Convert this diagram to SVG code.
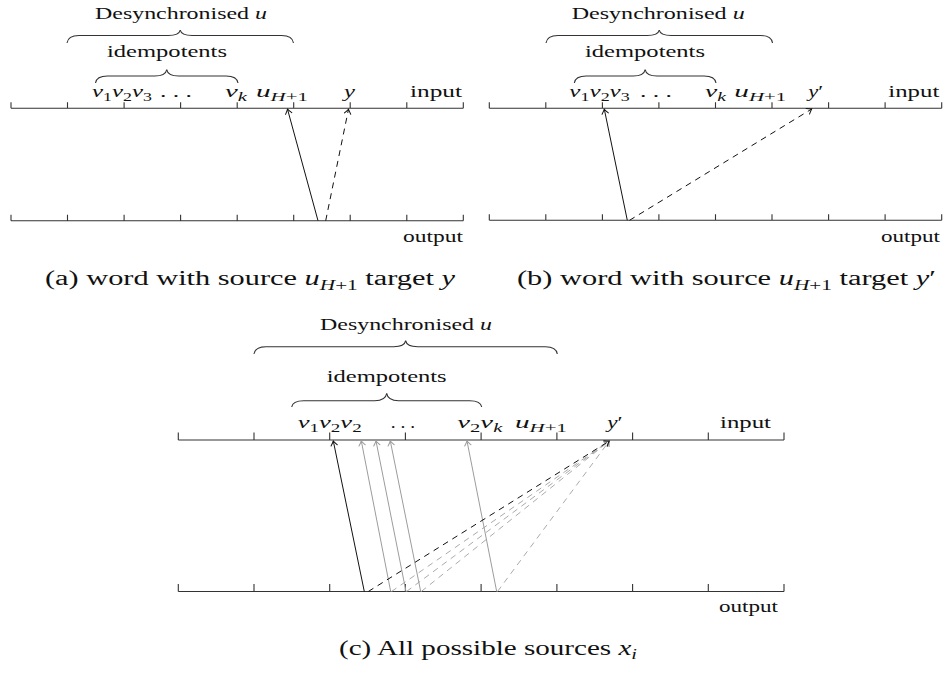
<svg xmlns="http://www.w3.org/2000/svg" width="949" height="679" viewBox="0 0 949 679">
<style>
.t{font-family:"Liberation Serif","Times New Roman",serif;font-size:17.5px;fill:#111}
.cap{font-size:20px}
.i{font-style:italic}
.s{font-size:12.5px}
.cap .s{font-size:14px}
.axis{stroke:#333;stroke-width:1.1;fill:none}
.brace{stroke:#333;stroke-width:1.1;fill:none}
.a{stroke:#111;stroke-width:1;fill:none;marker-end:url(#ah)}
.g{stroke:#9c9c9c;stroke-width:1;fill:none;marker-end:url(#ahg)}
.d{stroke-dasharray:6 5}
.gd{stroke:#ababab;stroke-dasharray:6 5}
</style>
<defs>
<marker id="ah" markerUnits="userSpaceOnUse" orient="auto" overflow="visible" markerWidth="10" markerHeight="10">
<path d="M-4.5,-3.2 Q-1.5,-0.8 0,0 Q-1.5,0.8 -4.5,3.2" fill="none" stroke="#111" stroke-width="1" stroke-linecap="round"/>
</marker>
<marker id="ahg" markerUnits="userSpaceOnUse" orient="auto" overflow="visible" markerWidth="10" markerHeight="10">
<path d="M-4.5,-3.2 Q-1.5,-0.8 0,0 Q-1.5,0.8 -4.5,3.2" fill="none" stroke="#9c9c9c" stroke-width="1" stroke-linecap="round"/>
</marker>
</defs>

<!-- Panel (a) -->
<g id="panel-a">
<g id="a-input-axis"><path class="axis" d="M11,108.3 H463.3 M11,102.3 V108.3 M67.5,102.3 V108.3 M124.1,102.3 V108.3 M180.6,102.3 V108.3 M237.2,102.3 V108.3 M293.7,102.3 V108.3 M350.2,102.3 V108.3 M406.8,102.3 V108.3 M463.3,102.3 V108.3"/>
<text class="t" x="410" y="97" textLength="52" lengthAdjust="spacingAndGlyphs">input</text></g>
<g id="a-output-axis"><path class="axis" d="M11,220.7 H463.3 M11,214.7 V220.7 M67.5,214.7 V220.7 M124.1,214.7 V220.7 M180.6,214.7 V220.7 M237.2,214.7 V220.7 M293.7,214.7 V220.7 M350.2,214.7 V220.7 M406.8,214.7 V220.7 M463.3,214.7 V220.7"/>
<text class="t" x="403" y="242" textLength="60" lengthAdjust="spacingAndGlyphs">output</text></g>
<g id="a-desync"><path class="brace" d="M67,43 Q68,35.5 79,35.5 H168.25 Q179.25,35.5 180.25,30 Q181.25,35.5 192.25,35.5 H281.5 Q292.5,35.5 293.5,43"/>
<text class="t" x="95" y="19" textLength="172" lengthAdjust="spacingAndGlyphs">Desynchronised <tspan class="i">u</tspan></text></g>
<g id="a-idem"><path class="brace" d="M95.5,83 Q96.5,76 107.5,76 H154.75 Q165.75,76 166.75,69.5 Q167.75,76 178.75,76 H226 Q237,76 238,83"/>
<text class="t" x="107" y="57" textLength="120" lengthAdjust="spacingAndGlyphs">idempotents</text></g>
<g id="a-labels">
<text class="t" x="92" y="97" textLength="60" lengthAdjust="spacingAndGlyphs"><tspan class="i">v</tspan><tspan class="s" dy="3.5">1</tspan><tspan class="i" dy="-3.5">v</tspan><tspan class="s" dy="3.5">2</tspan><tspan class="i" dy="-3.5">v</tspan><tspan class="s" dy="3.5">3</tspan></text>
<text class="t" x="160" y="97" textLength="32" lengthAdjust="spacingAndGlyphs">. . .</text>
<text class="t" x="225" y="97" textLength="22" lengthAdjust="spacingAndGlyphs"><tspan class="i">v</tspan><tspan class="s i" dy="3.5">k</tspan></text>
<text class="t" x="256" y="97" textLength="52" lengthAdjust="spacingAndGlyphs"><tspan class="i">u</tspan><tspan class="s" dy="4"><tspan class="i">H</tspan>+1</tspan></text>
<text class="t i" x="344" y="97" textLength="11" lengthAdjust="spacingAndGlyphs">y</text>
</g>
<text id="cap-a" class="t cap" x="45" y="285" textLength="410" lengthAdjust="spacingAndGlyphs">(a) word with source <tspan class="i">u</tspan><tspan class="s" dy="4.5"><tspan class="i">H</tspan>+1</tspan><tspan dy="-4.5"> target </tspan><tspan class="i">y</tspan></text>
</g>

<!-- Panel (b) -->
<g id="panel-b">
<g id="b-input-axis"><path class="axis" d="M489.3,108.3 H941.7 M489.3,102.3 V108.3 M545.8,102.3 V108.3 M602.4,102.3 V108.3 M658.9,102.3 V108.3 M715.5,102.3 V108.3 M772,102.3 V108.3 M828.6,102.3 V108.3 M885.1,102.3 V108.3 M941.7,102.3 V108.3"/>
<text class="t" x="888.3" y="97" textLength="51" lengthAdjust="spacingAndGlyphs">input</text></g>
<g id="b-output-axis"><path class="axis" d="M489.3,220.3 H941.7 M489.3,214.3 V220.3 M545.8,214.3 V220.3 M602.4,214.3 V220.3 M658.9,214.3 V220.3 M715.5,214.3 V220.3 M772,214.3 V220.3 M828.6,214.3 V220.3 M885.1,214.3 V220.3 M941.7,214.3 V220.3"/>
<text class="t" x="881" y="242" textLength="59" lengthAdjust="spacingAndGlyphs">output</text></g>
<g id="b-desync"><path class="brace" d="M546,43 Q547,35.5 558,35.5 H647.25 Q658.25,35.5 659.25,30 Q660.25,35.5 671.25,35.5 H760.5 Q771.5,35.5 772.5,43"/>
<text class="t" x="571.7" y="19" textLength="173" lengthAdjust="spacingAndGlyphs">Desynchronised <tspan class="i">u</tspan></text></g>
<g id="b-idem"><path class="brace" d="M574.3,83 Q575.3,76 586.3,76 H633.15 Q644.15,76 645.15,69.5 Q646.15,76 657.15,76 H704 Q715,76 716,83"/>
<text class="t" x="585" y="57" textLength="120" lengthAdjust="spacingAndGlyphs">idempotents</text></g>
<g id="b-labels">
<text class="t" x="569.3" y="97" textLength="60.5" lengthAdjust="spacingAndGlyphs"><tspan class="i">v</tspan><tspan class="s" dy="3.5">1</tspan><tspan class="i" dy="-3.5">v</tspan><tspan class="s" dy="3.5">2</tspan><tspan class="i" dy="-3.5">v</tspan><tspan class="s" dy="3.5">3</tspan></text>
<text class="t" x="640" y="97" textLength="32" lengthAdjust="spacingAndGlyphs">. . .</text>
<text class="t" x="705" y="97" textLength="21" lengthAdjust="spacingAndGlyphs"><tspan class="i">v</tspan><tspan class="s i" dy="3.5">k</tspan></text>
<text class="t" x="734.3" y="97" textLength="52" lengthAdjust="spacingAndGlyphs"><tspan class="i">u</tspan><tspan class="s" dy="4"><tspan class="i">H</tspan>+1</tspan></text>
<text class="t" x="808.3" y="97" textLength="15" lengthAdjust="spacingAndGlyphs"><tspan class="i">y</tspan>′</text>
</g>
<text id="cap-b" class="t cap" x="517" y="285" textLength="419" lengthAdjust="spacingAndGlyphs">(b) word with source <tspan class="i">u</tspan><tspan class="s" dy="4.5"><tspan class="i">H</tspan>+1</tspan><tspan dy="-4.5"> target </tspan><tspan class="i">y</tspan>′</text>
</g>

<!-- Panel (c) -->
<g id="panel-c">
<g id="c-input-axis"><path class="axis" d="M178.3,440 H784 M178.3,432.5 V440 M254,432.5 V440 M329.7,432.5 V440 M405.4,432.5 V440 M481.1,432.5 V440 M556.9,432.5 V440 M632.6,432.5 V440 M708.3,432.5 V440 M784,432.5 V440"/>
<text class="t" x="720" y="428" textLength="51" lengthAdjust="spacingAndGlyphs">input</text></g>
<g id="c-output-axis"><path class="axis" d="M178.3,591.5 H784 M178.3,584 V591.5 M254,584 V591.5 M329.7,584 V591.5 M405.4,584 V591.5 M481.1,584 V591.5 M556.9,584 V591.5 M632.6,584 V591.5 M708.3,584 V591.5 M784,584 V591.5"/>
<text class="t" x="719" y="612" textLength="59" lengthAdjust="spacingAndGlyphs">output</text></g>
<g id="c-desync"><path class="brace" d="M254,354 Q255,346.7 266,346.7 H393.65 Q404.65,346.7 405.65,340.7 Q406.65,346.7 417.65,346.7 H545.3 Q556.3,346.7 557.3,354"/>
<text class="t" x="320" y="330" textLength="172" lengthAdjust="spacingAndGlyphs">Desynchronised <tspan class="i">u</tspan></text></g>
<g id="c-idem"><path class="brace" d="M291.7,407 Q292.7,400.7 303.7,400.7 H374.7 Q385.7,400.7 386.7,393.3 Q387.7,400.7 398.7,400.7 H469.7 Q480.7,400.7 481.7,407"/>
<text class="t" x="326.7" y="382" textLength="120" lengthAdjust="spacingAndGlyphs">idempotents</text></g>
<g id="c-labels">
<text class="t" x="297.7" y="428" textLength="64" lengthAdjust="spacingAndGlyphs"><tspan class="i">v</tspan><tspan class="s" dy="3.5">1</tspan><tspan class="i" dy="-3.5">v</tspan><tspan class="s" dy="3.5">2</tspan><tspan class="i" dy="-3.5">v</tspan><tspan class="s" dy="3.5">2</tspan></text>
<text class="t" x="390.7" y="428" textLength="24.3" lengthAdjust="spacingAndGlyphs">. . .</text>
<text class="t" x="457.3" y="428" textLength="45" lengthAdjust="spacingAndGlyphs"><tspan class="i">v</tspan><tspan class="s" dy="3.5">2</tspan><tspan class="i" dy="-3.5">v</tspan><tspan class="s i" dy="3.5">k</tspan></text>
<text class="t" x="515" y="428" textLength="52" lengthAdjust="spacingAndGlyphs"><tspan class="i">u</tspan><tspan class="s" dy="4"><tspan class="i">H</tspan>+1</tspan></text>
<text class="t" x="607.3" y="428" textLength="15.4" lengthAdjust="spacingAndGlyphs"><tspan class="i">y</tspan>′</text>
</g>
<text id="cap-c" class="t cap" x="339" y="655" textLength="298" lengthAdjust="spacingAndGlyphs">(c) All possible sources <tspan class="i">x</tspan><tspan class="s i" dy="4">i</tspan></text>
</g>

<!-- Connectors -->
<g id="connectors">
<line class="a" x1="318" y1="220.7" x2="287.5" y2="109.2"/>
<line class="a d" x1="325.7" y1="220.7" x2="348.5" y2="109.2"/>
<line class="a" x1="627.3" y1="220.3" x2="604.3" y2="109.2"/>
<line class="a d" x1="629.5" y1="220.3" x2="811.7" y2="109"/>
<line class="g gd" x1="391.5" y1="591.5" x2="609.3" y2="441"/>
<line class="g gd" x1="406.5" y1="591.5" x2="609.3" y2="441"/>
<line class="g gd" x1="421.3" y1="591.5" x2="609.3" y2="441"/>
<line class="g gd" x1="497.5" y1="591.5" x2="609.3" y2="441"/>
<line class="g" x1="390.7" y1="591.5" x2="361.3" y2="441"/>
<line class="g" x1="406" y1="591.5" x2="376" y2="441"/>
<line class="g" x1="420.7" y1="591.5" x2="390.3" y2="441"/>
<line class="g" x1="496.7" y1="591.5" x2="467" y2="441"/>
<line class="a d" x1="368.3" y1="591.5" x2="609.3" y2="441"/>
<line class="a" x1="364.3" y1="591.5" x2="333.3" y2="441"/>
</g>
</svg>
